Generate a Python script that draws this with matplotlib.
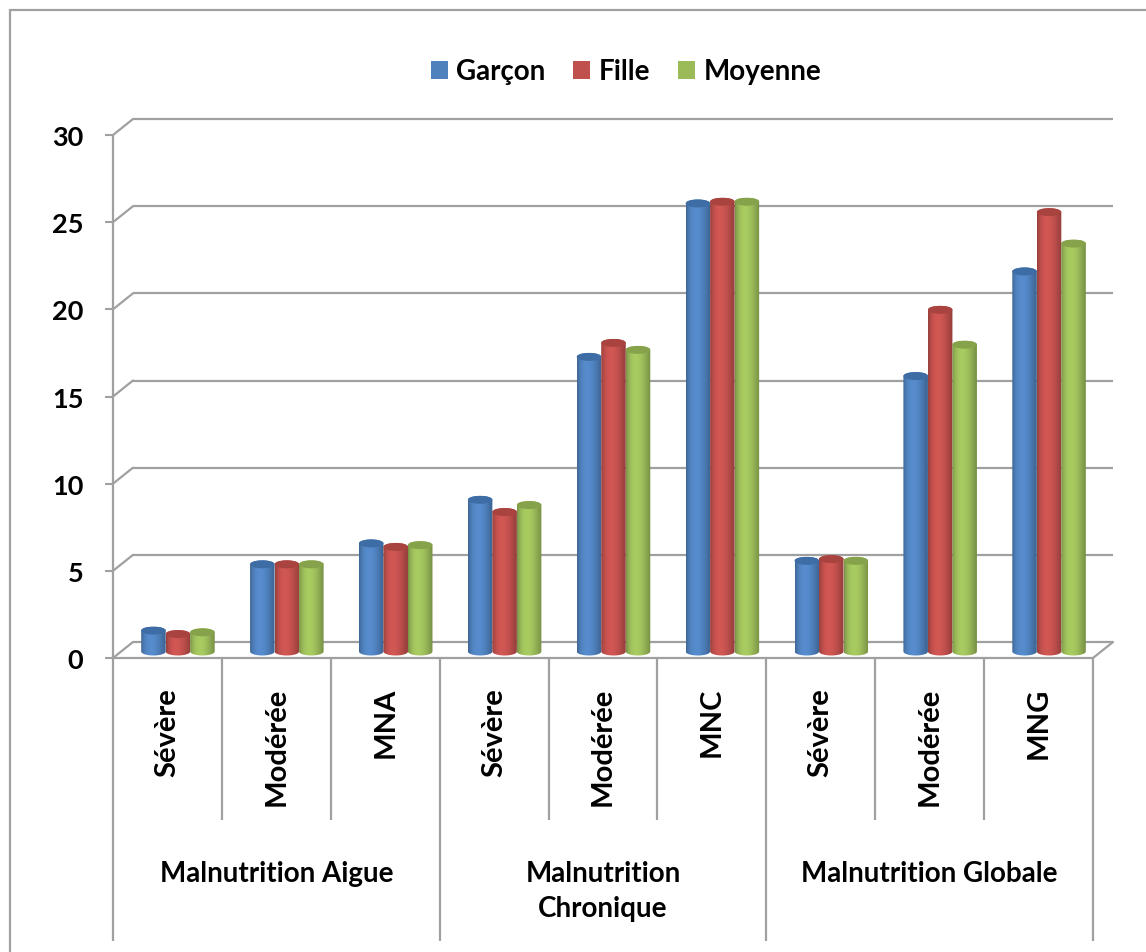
import numpy as np
import matplotlib
matplotlib.use("Agg")
import matplotlib.pyplot as plt
from matplotlib import transforms as mtransforms
from matplotlib.patches import PathPatch, Ellipse, Patch, Rectangle
from matplotlib.path import Path
from matplotlib.colors import to_rgb

# ---------------------------------------------------------------- data
categories = ["Sévère", "Modérée", "MNA",
              "Sévère", "Modérée", "MNC",
              "Sévère", "Modérée", "MNG"]
groups = ["Malnutrition Aigue", "Malnutrition\nChronique", "Malnutrition Globale"]
group_sizes = [3, 3, 3]
series_names = ["Garçon", "Fille", "Moyenne"]
garcon = [1.2, 5.0, 6.2, 8.7, 16.9, 25.7, 5.2, 15.8, 21.8]
fille = [1.0, 5.0, 6.0, 8.0, 17.7, 25.8, 5.3, 19.6, 25.2]
moyenne = [1.1, 5.0, 6.1, 8.4, 17.3, 25.8, 5.2, 17.6, 23.4]
y_ticks = [0, 5, 10, 15, 20, 25, 30]

series_values = [garcon, fille, moyenne]
body_colors = ["#4F81BD", "#C0504D", "#9BBB59"]
cap_colors = ["#3E6CA4", "#A8433F", "#86A24B"]
GREY = "#A0A0A0"

# ---------------------------------------------------------------- figure
W, H, DPI = 1146, 953, 100
plt.rcParams["font.family"] = ["Lato", "DejaVu Sans"]
plt.rcParams["font.weight"] = "bold"
fig = plt.figure(figsize=(W / DPI, H / DPI), dpi=DPI)
fig.patch.set_facecolor("white")

# front plane of the plot area (pixels)
left_px, right_px, top_px, bottom_px = 113, 1093, 136, 659
ax = fig.add_axes([left_px / W, 1 - bottom_px / H,
                   (right_px - left_px) / W, (bottom_px - top_px) / H])
ax.patch.set_visible(False)
for s in ax.spines.values():
    s.set_visible(False)

n = len(categories)
xmin, xmax = -0.5, n - 0.5
ax.set_xticks([])
ax.set_yticks(y_ticks)
ax.set_yticklabels([str(v) for v in y_ticks])
ax.tick_params(axis="y", length=5.8, width=1.5, color=GREY, pad=15.5,
               labelsize=19.5, labelcolor="black")

axes_h_px = bottom_px - top_px


def below(px):
    """axes-fraction y for a distance in pixels below the front floor"""
    return -px / axes_h_px


# depth offsets of the pseudo-3D box
DX_BACK, DY_BACK = 20, 16
DX_MID, DY_MID = 10.5, 6.5
back = mtransforms.offset_copy(ax.transData, fig=fig, x=DX_BACK, y=DY_BACK, units="dots")
mid = mtransforms.offset_copy(ax.transData, fig=fig, x=DX_MID, y=DY_MID, units="dots")
xdata_yaxes = mtransforms.blended_transform_factory(ax.transData, ax.transAxes)

line_kw = dict(color=GREY, lw=1.6, solid_capstyle="butt", clip_on=False)

# back wall gridlines with their side connectors
for v in y_ticks:
    ax.plot([xmin, xmax], [v, v], transform=back, zorder=1, **line_kw)
    ax.annotate("", xy=(xmin, v), xytext=(DX_BACK, DY_BACK), textcoords="offset pixels",
                annotation_clip=False,
                arrowprops=dict(arrowstyle="-", color=GREY, lw=1.6, shrinkA=0, shrinkB=0))
# right edge of the floor
ax.annotate("", xy=(xmax, 0), xytext=(DX_BACK, DY_BACK), textcoords="offset pixels",
            annotation_clip=False,
            arrowprops=dict(arrowstyle="-", color=GREY, lw=1.6, shrinkA=0, shrinkB=0))

# front floor edge and value axis
ax.plot([xmin, xmax], [0, 0], zorder=2, **line_kw)
ax.plot([xmin, xmin], [1, below(283)], transform=xdata_yaxes, zorder=2, **line_kw)

# category separators (short) and group separators (long)
bounds = np.cumsum([0] + group_sizes) - 0.5
for b in np.arange(xmin, xmax + 0.01, 1.0):
    is_group = np.any(np.isclose(bounds, b))
    if b == xmin:
        continue
    depth = 283 if is_group else 162
    ax.plot([b, b], [0, below(depth)], transform=xdata_yaxes, zorder=2, **line_kw)

# ---------------------------------------------------------------- cylinders
bw = 0.225
ry = 4.0 / (axes_h_px / 30.0)  # elliptical cap half-height in data units

t = np.linspace(0, 1, 96)
g = np.sin(np.pi * np.clip(t, 1e-6, 1) ** 0.756)
shade = 0.76 + 0.33 * g


def cylinder_path(x0, x1, v):
    xc = 0.5 * (x0 + x1)
    a = 0.5 * (x1 - x0)
    th_b = np.linspace(np.pi, 2 * np.pi, 30)   # bottom half, left -> right
    th_t = np.linspace(0, np.pi, 30)           # top half, right -> left
    xs = np.concatenate([[x0], xc + a * np.cos(th_b), [x1], xc + a * np.cos(th_t)])
    ys = np.concatenate([[v], ry * np.sin(th_b), [v], v + ry * np.sin(th_t)])
    verts = np.column_stack([xs, ys])
    verts = np.vstack([verts, verts[:1]])
    codes = [Path.MOVETO] + [Path.LINETO] * (len(verts) - 2) + [Path.CLOSEPOLY]
    return Path(verts, codes)


for j, (vals, col, capc) in enumerate(zip(series_values, body_colors, cap_colors)):
    base = np.array(to_rgb(col))
    img = np.clip(shade[:, None] * base[None, :], 0, 1)[None, :, :]
    for i, v in enumerate(vals):
        xc = i + (j - 1) * bw
        x0, x1 = xc - bw / 2, xc + bw / 2
        outline = PathPatch(cylinder_path(x0, x1, v), facecolor="none",
                            edgecolor="none", transform=mid, clip_on=False)
        ax.add_patch(outline)
        im = ax.imshow(img, extent=[x0, x1, -ry, v + ry], aspect="auto",
                       transform=mid, interpolation="bilinear", zorder=3)
        im.set_clip_path(outline)
        cap = Ellipse((xc, v), width=bw, height=2 * ry, transform=mid,
                      facecolor=capc, edgecolor="none", zorder=4, clip_on=False)
        ax.add_patch(cap)

ax.set_xlim(xmin, xmax)
ax.set_ylim(0, 30)
ax.set_aspect("auto")

# ---------------------------------------------------------------- labels
for i, c in enumerate(categories):
    ax.annotate(c, xy=(i, 0), xytext=(0, -29), textcoords="offset pixels",
                rotation=90, ha="center", va="top", fontsize=21,
                annotation_clip=False)

starts = np.cumsum([0] + group_sizes[:-1])
for g_lab, s0, sz in zip(groups, starts, group_sizes):
    ax.annotate(g_lab, xy=(s0 + (sz - 1) / 2, 0), xytext=(0, -202),
                textcoords="offset pixels", ha="center", va="top",
                fontsize=20, linespacing=1.45, multialignment="center",
                annotation_clip=False)

# legend
handles = [Patch(facecolor=c, edgecolor="none") for c in body_colors]
fig.legend(handles, series_names, loc="center", bbox_to_anchor=(626 / W, 1 - 72.5 / H),
           ncol=3, frameon=False, prop=dict(size=20, weight="bold"),
           handlelength=0.62, handleheight=0.62, handletextpad=0.3,
           columnspacing=1.0)

# chart border
fig.add_artist(Rectangle((10 / W, -0.1), 1.2, (H - 11) / H + 0.1,
                         transform=fig.transFigure, fill=False,
                         edgecolor=GREY, lw=1.6))

fig.savefig("out.png", dpi=DPI, facecolor="white")
